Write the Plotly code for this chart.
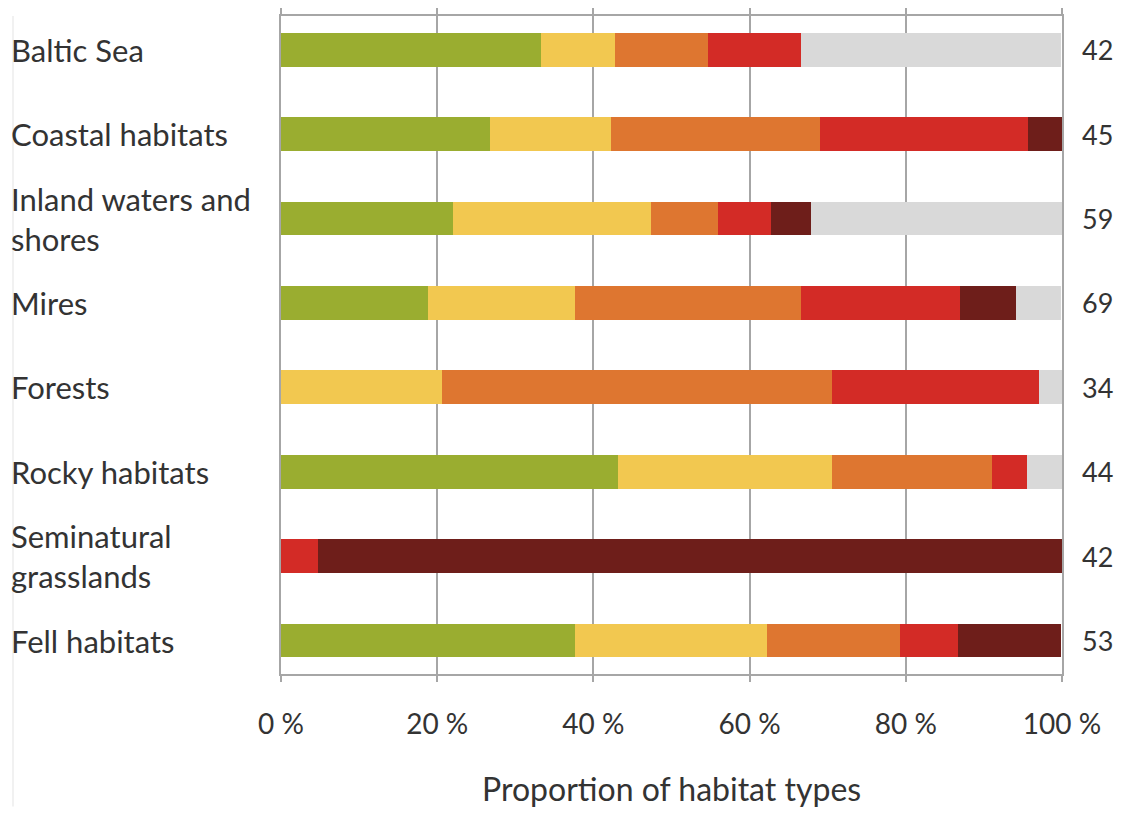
import plotly.graph_objects as go

categories = ["Baltic Sea", "Coastal habitats", "Inland waters and shores", "Mires",
              "Forests", "Rocky habitats", "Seminatural grasslands", "Fell habitats"]
category_labels = ["Baltic Sea", "Coastal habitats", "Inland waters and<br>shores", "Mires",
                   "Forests", "Rocky habitats", "Seminatural<br>grasslands", "Fell habitats"]
counts = [42, 45, 59, 69, 34, 44, 42, 53]

series_names = ["LC", "NT", "VU", "EN", "CR", "DD"]
series_colors = ["#9aad30", "#f2c850", "#de7630", "#d32b26", "#6e1e1a", "#d9d9d9"]

lc = [33.3, 26.7, 22.0, 18.8, 0.0, 43.2, 0.0, 37.7]
nt = [9.5, 15.6, 25.4, 18.8, 20.6, 27.3, 0.0, 24.5]
vu = [11.9, 26.7, 8.5, 29.0, 50.0, 20.5, 0.0, 17.0]
en = [11.9, 26.7, 6.8, 20.3, 26.5, 4.5, 4.8, 7.5]
cr = [0.0, 4.4, 5.1, 7.2, 0.0, 0.0, 95.2, 13.2]
dd = [33.3, 0.0, 32.2, 5.8, 2.9, 4.5, 0.0, 0.0]

x_ticks = [0, 20, 40, 60, 80, 100]
x_tick_labels = ["0 %", "20 %", "40 %", "60 %", "80 %", "100 %"]
x_title = "Proportion of habitat types"

FONT = "Lato, 'Open Sans', sans-serif"
TXT = "#333333"
AX = "#a6a6a6"

# page has an 8px body margin; figure is sized to fit inside it
W, H = 1114, 800
ML, MR, MT, MB = 273, 60, 0, 134
PW, PH = W - ML - MR, H - MT - MB

fig = go.Figure()
for name, color, vals in zip(series_names, series_colors, [lc, nt, vu, en, cr, dd]):
    fig.add_trace(go.Bar(
        y=categories, x=vals, name=name, orientation="h",
        marker=dict(color=color, line=dict(width=0)),
        showlegend=False, hoverinfo="x+y+name",
    ))

annotations = []
for cat, lab, n in zip(categories, category_labels, counts):
    annotations.append(dict(
        x=0, xref="paper", y=cat, yref="y", text=lab, showarrow=False,
        xanchor="left", yanchor="middle", align="left", xshift=-272,
        font=dict(family=FONT, size=31, color=TXT),
    ))
    annotations.append(dict(
        x=1, xref="paper", y=cat, yref="y", text=str(n), showarrow=False,
        xanchor="center", yanchor="middle", xshift=35,
        font=dict(family=FONT, size=27, color=TXT),
    ))
annotations.append(dict(
    x=0.5, xref="paper", y=0, yref="paper", text=x_title, showarrow=False,
    xanchor="center", yanchor="middle", yshift=-114,
    font=dict(family=FONT, size=32, color=TXT),
))

fig.update_layout(
    width=W, height=H,
    margin=dict(l=ML, r=MR, t=MT, b=MB),
    barmode="stack", bargap=0.6,
    plot_bgcolor="white", paper_bgcolor="white",
    font=dict(family=FONT, color=TXT),
    annotations=annotations,
    xaxis=dict(
        range=[0, 100], tickvals=x_ticks, ticktext=x_tick_labels,
        showgrid=True, gridcolor=AX, gridwidth=1.5,
        showline=True, linecolor=AX, linewidth=1.5, mirror="ticks",
        ticks="outside", ticklen=6, tickcolor=AX, tickwidth=1.5,
        tickfont=dict(family=FONT, size=28, color=TXT),
        ticklabelstandoff=19,
        zeroline=False, fixedrange=True,
    ),
    yaxis=dict(
        categoryorder="array", categoryarray=categories,
        range=[7.397, -0.401], showticklabels=False, ticks="",
        showline=True, linecolor=AX, linewidth=1.5, mirror=True,
        showgrid=False, zeroline=False, fixedrange=True,
    ),
    shapes=[dict(type="line", xref="paper", yref="paper",
                 x0=-268 / PW, x1=-268 / PW, y0=-MB / PH, y1=1 + MT / PH,
                 line=dict(color="#ececec", width=1.5))],
)

fig.write_html("out.html")
